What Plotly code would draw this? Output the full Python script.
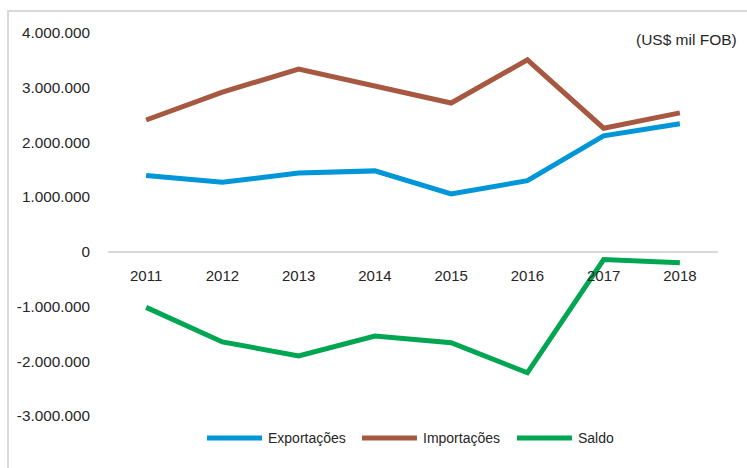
import plotly.graph_objects as go

years = ["2011", "2012", "2013", "2014", "2015", "2016", "2017", "2018"]
exportacoes = [1395000, 1274000, 1439000, 1480000, 1060000, 1300000, 2120000, 2340000]
importacoes = [2410000, 2920000, 3340000, 3020000, 2720000, 3510000, 2260000, 2540000]
saldo = [-1015000, -1646000, -1901000, -1540000, -1660000, -2210000, -140000, -200000]

series_names = ["Exportações", "Importações", "Saldo"]
series_colors = ["#0096D8", "#A65841", "#00A651"]
y_tickvals = [4000000, 3000000, 2000000, 1000000, 0, -1000000, -2000000, -3000000]
y_ticktext = ["4.000.000", "3.000.000", "2.000.000", "1.000.000", "0",
              "-1.000.000", "-2.000.000", "-3.000.000"]
unit_label = "(US$ mil FOB)"

FONT = "Liberation Sans, Arial, sans-serif"
TXT = "#262626"

W, H = 747, 468
L, R, T, B = 108, 29, 33, 52
pw, ph = W - L - R, H - T - B
ymin, ymax = -3000000, 4000000


def px_x(px):
    return (px - L) / pw


def px_y(py):
    return (H - B - py) / ph


fig = go.Figure()
for name, vals, col in zip(series_names, [exportacoes, importacoes, saldo], series_colors):
    fig.add_trace(go.Scatter(x=years, y=vals, name=name, mode="lines",
                             line=dict(color=col, width=5), showlegend=False))

fig.update_layout(
    width=W, height=H,
    margin=dict(l=L, r=R, t=T, b=B),
    paper_bgcolor="white", plot_bgcolor="white",
    font=dict(family=FONT, size=15, color=TXT),
    xaxis=dict(type="category", range=[-0.5, 7.5], showgrid=False, zeroline=False,
               showline=False, anchor="free", position=(0 - ymin) / (ymax - ymin),
               ticks="", ticklabelstandoff=13,
               tickfont=dict(family=FONT, size=15, color=TXT)),
    yaxis=dict(range=[ymin, ymax], showgrid=False, zeroline=True,
               zerolinecolor="#D9D9D9", zerolinewidth=2,
               tickvals=y_tickvals, ticktext=y_ticktext, ticks="",
               ticklabelstandoff=17, showline=False,
               tickfont=dict(family=FONT, size=15.3, color=TXT)),
)

# outer frame (light grey border)
fig.add_shape(type="rect", xref="paper", yref="paper",
              x0=px_x(8), x1=px_x(760), y0=px_y(480), y1=px_y(11),
              line=dict(color="#D9D9D9", width=2), fillcolor="rgba(0,0,0,0)", layer="below")

# unit label
fig.add_annotation(text=unit_label, xref="paper", yref="paper",
                   x=px_x(739), y=px_y(40), xanchor="right", yanchor="middle",
                   showarrow=False, font=dict(family=FONT, size=15.5, color=TXT))

# custom legend
leg_y = 438
leg_items = [(207, 262, 266), (362, 417, 421), (517, 572, 576)]
for (x0, x1, tx), name, col in zip(leg_items, series_names, series_colors):
    fig.add_shape(type="line", xref="paper", yref="paper",
                  x0=px_x(x0), x1=px_x(x1), y0=px_y(leg_y), y1=px_y(leg_y),
                  line=dict(color=col, width=5))
    fig.add_annotation(text=name, xref="paper", yref="paper",
                       x=px_x(tx), y=px_y(leg_y), xanchor="left", yanchor="middle",
                       showarrow=False, font=dict(family=FONT, size=14, color=TXT))

fig.write_html("out.html")
